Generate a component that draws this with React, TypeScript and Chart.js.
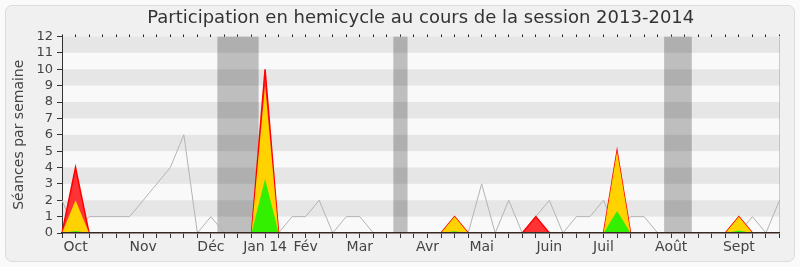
import { useEffect, useRef } from "react";
import { Chart, registerables } from "chart.js";

Chart.register(...registerables);

const FONT = "DejaVu Sans";
const TITLE = "Participation en hemicycle au cours de la session 2013-2014";

// Weekly slots from late September 2013 to late September 2014
const weekCount = 54;
const monthWeeks = [1, 6, 11, 15, 18, 22, 27, 31, 36, 40, 45, 50];
const monthNames = ["Oct", "Nov", "Déc", "Jan 14", "Fév", "Mar", "Avr", "Mai", "Juin", "Juil", "Août", "Sept"];

// Parliamentary recess weeks
const vacationWeeks = [12, 13, 14, 25, 45, 46];

// Sessions per week
const mediane = [
  2, 0, 1, 1, 1, 1, 2, 3, 4, 6,
  0, 1, 0, 0, 0, 0, 0, 1, 1, 2,
  0, 1, 1, 0, 0, 0, 0, 0, 0, 0,
  0, 3, 0, 2, 0, 1, 2, 0, 1, 1,
  2, 0, 1, 1, 0, 0, 0, 0, 0, 0,
  0, 1, 0, 2,
];
const presences = [
  0, 4, 0, 0, 0, 0, 0, 0, 0, 0,
  0, 0, 0, 0, 0, 10, 0, 0, 0, 0,
  0, 0, 0, 0, 0, 0, 0, 0, 0, 1,
  0, 0, 0, 0, 0, 1, 0, 0, 0, 0,
  0, 5, 0, 0, 0, 0, 0, 0, 0, 0,
  1, 0, 0, 0,
];
const interventions = [
  0, 2, 0, 0, 0, 0, 0, 0, 0, 0,
  0, 0, 0, 0, 0, 9, 0, 0, 0, 0,
  0, 0, 0, 0, 0, 0, 0, 0, 0, 1,
  0, 0, 0, 0, 0, 0, 0, 0, 0, 0,
  0, 5, 0, 0, 0, 0, 0, 0, 0, 0,
  1, 0, 0, 0,
];
const questions = [
  0, 0.12, 0, 0, 0, 0, 0, 0, 0, 0,
  0, 0, 0, 0, 0, 3.3, 0, 0, 0, 0,
  0, 0, 0, 0, 0, 0, 0, 0, 0, 0.1,
  0, 0, 0, 0, 0, 0, 0, 0, 0, 0,
  0, 1.35, 0, 0, 0, 0, 0, 0, 0, 0,
  0.15, 0, 0, 0,
];

const yTicks = [0, 1, 2, 3, 4, 5, 6, 7, 8, 9, 10, 11, 12];

const labels = Array.from({ length: weekCount }, (_, i) => {
  const m = monthWeeks.indexOf(i);
  return m >= 0 ? monthNames[m] : "";
});
const vacationData = labels.map((_, i) => (vacationWeeks.includes(i) ? yTicks[yTicks.length - 1] : null));

// Light plot background, darker horizontal stripes over the recess columns,
// and the title centred over the plot area
const stripesPlugin = {
  id: "stripes",
  beforeDraw(chart: any) {
    const { ctx, chartArea: a } = chart;
    ctx.save();
    ctx.fillStyle = "#f9f9f9";
    ctx.fillRect(a.left, a.top, a.right - a.left, a.bottom - a.top);
    ctx.restore();
  },
  afterDatasetDraw(chart: any, args: any) {
    if (args.meta.type !== "bar") return;
    const { ctx, chartArea: a, scales } = chart;
    const y = scales.y;
    ctx.save();
    ctx.fillStyle = "rgba(0,0,0,0.075)";
    for (let v = 1; v < yTicks[yTicks.length - 1]; v += 2) {
      const top = y.getPixelForValue(v + 1);
      const bottom = y.getPixelForValue(v);
      ctx.fillRect(a.left, top, a.right - a.left, bottom - top);
    }
    ctx.restore();
  },
  afterDraw(chart: any) {
    const { ctx, chartArea: a } = chart;
    ctx.save();
    ctx.font = `18px "${FONT}"`;
    ctx.fillStyle = "#333";
    ctx.textAlign = "center";
    ctx.textBaseline = "middle";
    ctx.fillText(TITLE, (a.left + a.right) / 2, 18);
    ctx.restore();
  },
};

export default function App() {
  const canvasRef = useRef<HTMLCanvasElement | null>(null);

  useEffect(() => {
    if (!canvasRef.current) return;
    Chart.defaults.font.family = FONT;
    const chart = new Chart(canvasRef.current, {
      type: "line",
      data: {
        labels,
        datasets: [
          {
            type: "bar",
            data: vacationData,
            backgroundColor: "#bebebe",
            borderWidth: 0,
            barPercentage: 1,
            categoryPercentage: 1,
            xAxisID: "x",
            yAxisID: "y",
            order: 10,
          } as any,
          {
            data: mediane,
            borderColor: "#b4b4b4",
            borderWidth: 1,
            pointRadius: 0,
            fill: false,
            tension: 0,
            order: 4,
          },
          {
            data: presences,
            borderColor: "#ff0000",
            borderWidth: 1.5,
            backgroundColor: "#ff3333",
            pointRadius: 0,
            fill: "origin",
            tension: 0,
            order: 3,
          },
          {
            data: interventions,
            borderColor: "transparent",
            borderWidth: 0,
            backgroundColor: "#ffd200",
            pointRadius: 0,
            fill: "origin",
            tension: 0,
            order: 2,
          },
          {
            data: questions,
            borderColor: "transparent",
            borderWidth: 0,
            backgroundColor: "#33ef00",
            pointRadius: 0,
            fill: "origin",
            tension: 0,
            order: 1,
          },
        ],
      },
      options: {
        animation: false,
        responsive: false,
        devicePixelRatio: 1,
        layout: { padding: { left: 0, right: 20.5, top: 34.5, bottom: 5 } },
        plugins: {
          legend: { display: false },
          tooltip: { enabled: false },
          title: { display: false },
        },
        scales: {
          x: {
            type: "category",
            position: "bottom",
            offset: false,
            grid: { display: true, drawOnChartArea: false, offset: false, tickLength: 5, color: "#333" },
            border: { display: true, color: "#3a2620", width: 1.5, z: 1 },
            ticks: {
              autoSkip: false,
              maxRotation: 0,
              minRotation: 0,
              padding: 1,
              color: "#444",
              font: { family: FONT, size: 14 },
            },
            afterFit: (s: any) => {
              s.height = 29;
            },
          },
          xTop: {
            type: "category",
            position: "top",
            offset: false,
            grid: { display: true, drawOnChartArea: false, offset: false, tickLength: 2, color: "#222" },
            border: { display: false },
            ticks: { display: false, autoSkip: false },
            afterFit: (s: any) => {
              s.height = 2;
            },
          },
          y: {
            min: 0,
            max: 12,
            afterBuildTicks: (s: any) => {
              s.ticks = yTicks.map((v) => ({ value: v }));
            },
            ticks: { autoSkip: false, padding: 4, color: "#444", font: { family: FONT, size: 13 } },
            grid: { display: true, drawOnChartArea: false, tickLength: 5, color: "#333" },
            border: { display: true, color: "#333" },
            title: {
              display: true,
              text: "Séances par semaine",
              color: "#444",
              font: { family: FONT, size: 14 },
              padding: { top: 11, bottom: 0 },
            },
            afterFit: (s: any) => {
              s.width = 62;
            },
          },
          yRight: {
            position: "right",
            min: 0,
            max: 12,
            grid: { display: false },
            ticks: { display: false },
            border: { display: true, color: "#cccccc" },
            afterFit: (s: any) => {
              s.width = 0;
            },
          },
        },
      } as any,
      plugins: [stripesPlugin],
    });
    return () => chart.destroy();
  }, []);

  return (
    <div style={{ position: "fixed", left: 0, top: 0, width: 800, height: 267, background: "#fafafa" }}>
      <div
        style={{
          position: "absolute",
          left: 5,
          top: 5,
          width: 788,
          height: 255,
          border: "1px solid #dcdcdc",
          borderRadius: 7,
          background: "#f0f0f0",
        }}
      />
      <canvas
        ref={canvasRef}
        width={800}
        height={267}
        style={{ position: "absolute", left: 0, top: 0, display: "block" }}
      />
    </div>
  );
}
